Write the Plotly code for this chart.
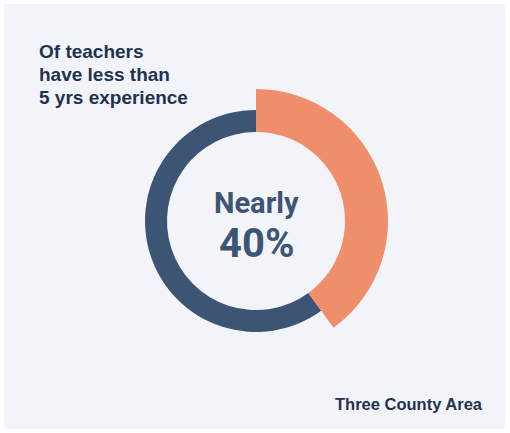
import plotly.graph_objects as go

labels = ["Less than 5 yrs", "5+ yrs"]
values = [40, 60]
title_lines = ["Of teachers", "have less than", "5 yrs experience"]
center_top = "Nearly"
center_value = "40%"
footer = "Three County Area"

W, H = 510, 433
cx, cy = 256, 221          # centre in px from top-left
r_in, r_blue, r_orange = 89, 111, 132

def dom(r):
    x0 = (cx - r) / W
    x1 = (cx + r) / W
    yb = H - cy
    y0 = (yb - r) / H
    y1 = (yb + r) / H
    return dict(x=[x0, x1], y=[y0, y1])

BLUE = "#3c5574"
ORANGE = "#ef8e6a"
CLEAR = "rgba(0,0,0,0)"
NAVY = "#1e3350"

fig = go.Figure()
fig.add_trace(go.Pie(
    labels=labels, values=values, sort=False, direction="clockwise", rotation=0,
    hole=r_in / r_blue, domain=dom(r_blue),
    marker=dict(colors=[CLEAR, BLUE], line=dict(width=0)),
    textinfo="none", hoverinfo="skip", showlegend=False,
))
fig.add_trace(go.Pie(
    labels=labels, values=values, sort=False, direction="clockwise", rotation=0,
    hole=r_in / r_orange, domain=dom(r_orange),
    marker=dict(colors=[ORANGE, CLEAR], line=dict(width=0)),
    textinfo="none", hoverinfo="skip", showlegend=False,
))

annotations = []
for i, line in enumerate(title_lines):
    annotations.append(dict(
        text="<b>" + line + "</b>", x=37 / W, y=1 - (52 + 22.7 * i) / H,
        xref="paper", yref="paper", xanchor="left", yanchor="middle",
        align="left", showarrow=False,
        font=dict(family="Liberation Sans, Arial", size=19, color=NAVY)))
annotations += [
    dict(text="<b>" + center_top + "</b>", x=cx / W, y=1 - 203 / H, xref="paper", yref="paper",
         xanchor="center", yanchor="middle", showarrow=False,
         font=dict(family="Roboto", size=29, color=BLUE)),
    dict(text="<b>" + center_value + "</b>", x=cx / W, y=1 - 243 / H, xref="paper", yref="paper",
         xanchor="center", yanchor="middle", showarrow=False,
         font=dict(family="Roboto", size=40, color=BLUE)),
    dict(text="<b>" + footer + "</b>", x=485 / W, y=1 - 404 / H, xref="paper", yref="paper",
         xanchor="right", yanchor="middle", showarrow=False,
         font=dict(family="Liberation Sans, Arial", size=16.5, color=NAVY)),
]

fig.update_layout(
    width=W, height=H, margin=dict(l=0, r=0, t=0, b=0),
    paper_bgcolor="white", plot_bgcolor="white",
    annotations=annotations,
    shapes=[dict(type="rect", xref="paper", yref="paper", x0=4 / W, x1=505 / W,
                 y0=1 - 429 / H, y1=1 - 4 / H, fillcolor="#f3f4f9",
                 line=dict(width=0), layer="below")],
)
fig.write_html("out.html", config={"displayModeBar": False},
               post_script="document.body.style.margin='0';")
